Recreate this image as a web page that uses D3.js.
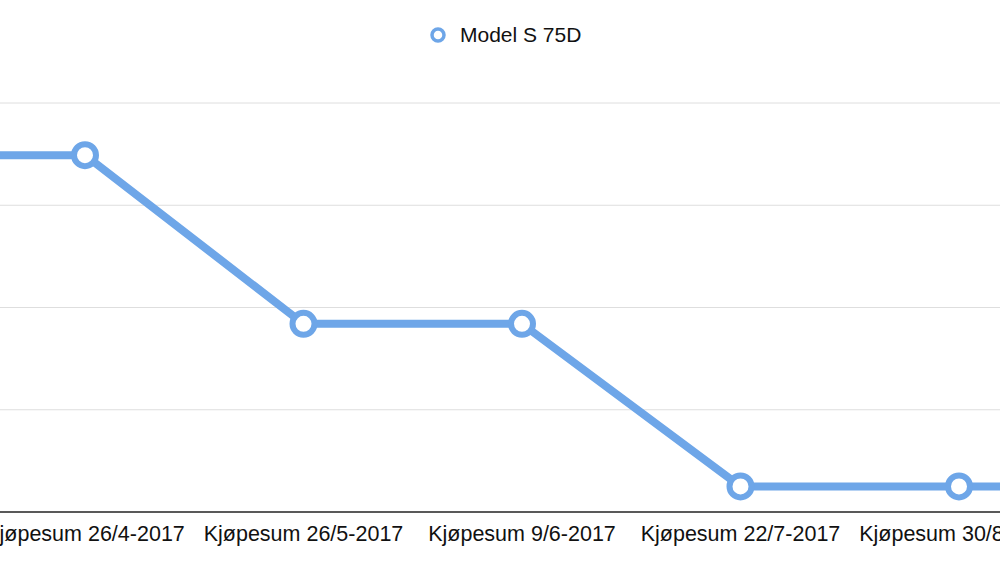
<!DOCTYPE html>
<html><head><meta charset="utf-8">
<script src="https://cdn.jsdelivr.net/npm/d3@7/dist/d3.min.js"></script>
<style>body{margin:0;background:#fff}svg{display:block}</style>
</head><body>
<svg id="chart" width="1000" height="570"></svg>
<script>
// categories (first and last lie outside the visible crop)
const categories = ["Kjøpesum 29/3-2017", "Kjøpesum 26/4-2017", "Kjøpesum 26/5-2017",
  "Kjøpesum 9/6-2017", "Kjøpesum 22/7-2017", "Kjøpesum 30/8-2017", "Kjøpesum 15/9-2017"];
const values = [3.49, 3.49, 1.84, 1.84, 0.25, 0.25, 0.25];
const yTicks = [0, 1, 2, 3, 4];
const seriesName = "Model S 75D";
const color = "#6ea6e8";

const svg = d3.select("#chart");
const x = d3.scaleLinear().domain([0, categories.length - 1]).range([-133.5, 1177.5]);
const y = d3.scaleLinear().domain([0, 4]).range([512, 103]);

// gridlines
svg.append("g").selectAll("line").data(yTicks.slice(1)).join("line")
  .attr("x1", 0).attr("x2", 1000)
  .attr("y1", d => y(d)).attr("y2", d => y(d))
  .attr("stroke", "#dedede").attr("stroke-width", 1);
svg.append("line").attr("x1", 0).attr("x2", 1000)
  .attr("y1", y(0)).attr("y2", y(0)).attr("stroke", "#222").attr("stroke-width", 1.5);

// x labels
svg.append("g").selectAll("text").data(categories).join("text")
  .attr("x", (d, i) => x(i)).attr("y", 541)
  .attr("text-anchor", "middle")
  .style("font", "21.5px 'Liberation Sans', Arial, sans-serif").attr("fill", "#111")
  .text(d => d);

// line
svg.append("path").datum(values)
  .attr("d", d3.line().x((d, i) => x(i)).y(d => y(d)))
  .attr("fill", "none").attr("stroke", color).attr("stroke-width", 8)
  .attr("stroke-linejoin", "round");

svg.append("g").selectAll("circle").data(values).join("circle")
  .attr("cx", (d, i) => x(i)).attr("cy", d => y(d)).attr("r", 11)
  .attr("fill", "#fff").attr("stroke", color).attr("stroke-width", 6);

// legend
svg.append("circle").attr("cx", 438).attr("cy", 35).attr("r", 6)
  .attr("fill", "#fff").attr("stroke", color).attr("stroke-width", 3.5);
svg.append("text").attr("x", 460).attr("y", 42)
  .style("font", "21px 'Liberation Sans', Arial, sans-serif").attr("fill", "#111")
  .text(seriesName);
</script>
</body></html>
